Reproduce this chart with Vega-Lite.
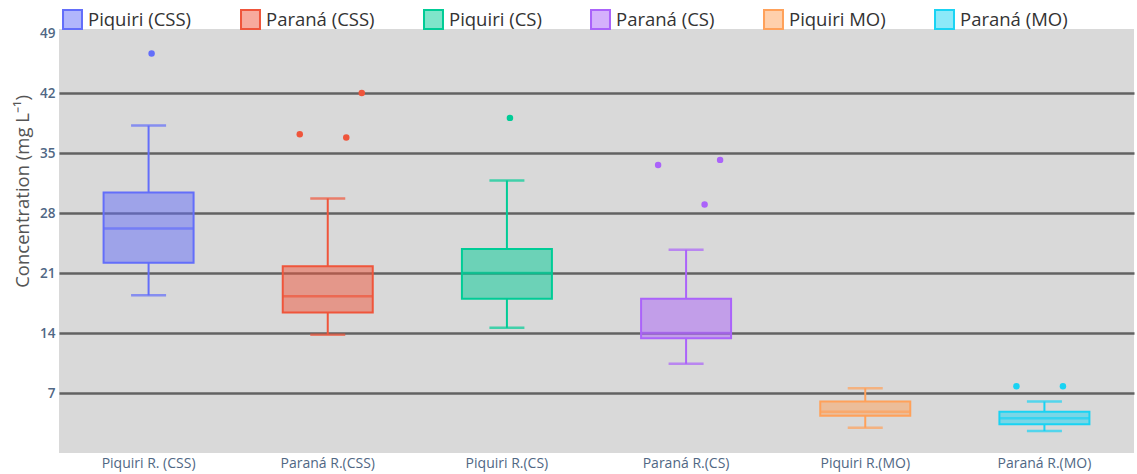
{
  "$schema": "https://vega.github.io/schema/vega-lite/v6.json",
  "width": 1075,
  "height": 424,
  "autosize": {"type": "none"},
  "padding": {"left": 59, "top": 29, "right": 3, "bottom": 21},
  "background": "white",
  "datasets": {
    "boxes": [
      {"site": "Piquiri R. (CSS)", "series": "Piquiri (CSS)", "lower": 18.4, "q1": 22.2, "median": 26.2, "q3": 30.4, "upper": 38.2},
      {"site": "Paraná R.(CSS)", "series": "Paraná (CSS)", "lower": 13.8, "q1": 16.4, "median": 18.3, "q3": 21.8, "upper": 29.7},
      {"site": "Piquiri R.(CS)", "series": "Piquiri (CS)", "lower": 14.6, "q1": 18.0, "median": 21.0, "q3": 23.8, "upper": 31.8},
      {"site": "Paraná R.(CS)", "series": "Paraná (CS)", "lower": 10.4, "q1": 13.4, "median": 14.0, "q3": 18.0, "upper": 23.7},
      {"site": "Piquiri R.(MO)", "series": "Piquiri MO)", "lower": 2.95, "q1": 4.35, "median": 4.8, "q3": 6.0, "upper": 7.55},
      {"site": "Paraná R.(MO)", "series": "Paraná (MO)", "lower": 2.57, "q1": 3.35, "median": 4.05, "q3": 4.82, "upper": 6.0}
    ],
    "outliers": [
      {"site": "Piquiri R. (CSS)", "series": "Piquiri (CSS)", "obs": "o3", "value": 46.6},
      {"site": "Paraná R.(CSS)", "series": "Paraná (CSS)", "obs": "o1", "value": 37.2},
      {"site": "Paraná R.(CSS)", "series": "Paraná (CSS)", "obs": "o4", "value": 36.8},
      {"site": "Paraná R.(CSS)", "series": "Paraná (CSS)", "obs": "o5", "value": 42.0},
      {"site": "Piquiri R.(CS)", "series": "Piquiri (CS)", "obs": "o3", "value": 39.1},
      {"site": "Paraná R.(CS)", "series": "Paraná (CS)", "obs": "o1", "value": 33.6},
      {"site": "Paraná R.(CS)", "series": "Paraná (CS)", "obs": "o5", "value": 34.2},
      {"site": "Paraná R.(CS)", "series": "Paraná (CS)", "obs": "o4", "value": 29.0},
      {"site": "Paraná R.(MO)", "series": "Paraná (MO)", "obs": "o1", "value": 7.8},
      {"site": "Paraná R.(MO)", "series": "Paraná (MO)", "obs": "o4", "value": 7.8}
    ]
  },
  "encoding": {
    "x": {
      "field": "site",
      "type": "nominal",
      "sort": null,
      "scale": {"paddingInner": 0, "paddingOuter": 0},
      "axis": {"title": null, "labelAngle": 0, "domain": false, "ticks": false, "labelPadding": 3}
    },
    "color": {
      "field": "series",
      "type": "nominal",
      "scale": {
        "domain": ["Piquiri (CSS)", "Paraná (CSS)", "Piquiri (CS)", "Paraná (CS)", "Piquiri MO)", "Paraná (MO)"],
        "range": ["#636efa", "#ef553b", "#00cc96", "#ab63fa", "#ffa15a", "#19d3f3"]
      },
      "legend": {
        "orient": "none",
        "direction": "horizontal",
        "columns": 6,
        "legendX": 3,
        "legendY": -20,
        "title": null,
        "symbolType": "square",
        "symbolSize": 360,
        "symbolStrokeWidth": 2,
        "labelOffset": 5,
        "columnPadding": 45,
        "encode": {"symbols": {"update": {"fillOpacity": {"value": 0.5}, "strokeOpacity": {"value": 1}}}}
      }
    }
  },
  "layer": [
    {
      "data": {"name": "boxes"},
      "mark": {"type": "rule", "strokeWidth": 2},
      "encoding": {
        "y": {
          "field": "lower",
          "type": "quantitative",
          "scale": {"domain": [0, 49.47], "nice": false, "zero": true},
          "axis": {
            "values": [7, 14, 21, 28, 35, 42, 49],
            "title": "Concentration (mg L⁻¹)",
            "domain": false,
            "ticks": false,
            "labelPadding": 4,
            "grid": true,
            "gridColor": {"condition": {"test": "datum.value >= 49", "value": "transparent"}, "value": "#626262"},
            "gridWidth": 2.5,
            "titleAngle": -90,
            "titleX": -37,
            "titleY": 162,
            "titleAlign": "center",
            "titleBaseline": "middle"
          }
        },
        "y2": {"field": "q1"}
      }
    },
    {
      "data": {"name": "boxes"},
      "mark": {"type": "rule", "strokeWidth": 2},
      "encoding": {
        "y": {"field": "q3", "type": "quantitative"},
        "y2": {"field": "upper"}
      }
    },
    {
      "data": {"name": "boxes"},
      "mark": {"type": "bar", "width": 90, "fillOpacity": 0.5, "strokeWidth": 2},
      "encoding": {
        "y": {"field": "q1", "type": "quantitative"},
        "y2": {"field": "q3"},
        "stroke": {
          "field": "series",
          "type": "nominal",
          "scale": {
            "domain": ["Piquiri (CSS)", "Paraná (CSS)", "Piquiri (CS)", "Paraná (CS)", "Piquiri MO)", "Paraná (MO)"],
            "range": ["#636efa", "#ef553b", "#00cc96", "#ab63fa", "#ffa15a", "#19d3f3"]
          },
          "legend": null
        }
      }
    },
    {
      "data": {"name": "boxes"},
      "mark": {"type": "tick", "size": 90, "thickness": 2.5},
      "encoding": {"y": {"field": "median", "type": "quantitative"}}
    },
    {
      "data": {"name": "boxes"},
      "mark": {"type": "tick", "size": 35, "thickness": 2.5},
      "encoding": {"y": {"field": "lower", "type": "quantitative"}}
    },
    {
      "data": {"name": "boxes"},
      "mark": {"type": "tick", "size": 35, "thickness": 2.5},
      "encoding": {"y": {"field": "upper", "type": "quantitative"}}
    },
    {
      "data": {"name": "outliers"},
      "mark": {"type": "circle", "size": 42, "opacity": 1},
      "encoding": {
        "y": {"field": "value", "type": "quantitative"},
        "xOffset": {
          "field": "obs",
          "type": "nominal",
          "scale": {"type": "point", "padding": 0, "domain": ["o1", "o2", "o3", "o4", "o5"], "range": [61.6, 123.6]}
        }
      }
    }
  ],
  "config": {
    "font": "Open Sans",
    "view": {"fill": "#d9d9d9", "stroke": null},
    "axis": {
      "labelFont": "Open Sans",
      "labelColor": "#506784",
      "labelFontSize": 13.5,
      "titleFont": "Open Sans",
      "titleFontSize": 18.5,
      "titleFontWeight": "normal",
      "titleColor": "#555555"
    },
    "axisY": {"labelFontWeight": 600},
    "axisX": {"labelFontSize": 14},
    "legend": {
      "labelFont": "Open Sans",
      "labelFontSize": 18.5,
      "labelColor": "#333333"
    }
  }
}
